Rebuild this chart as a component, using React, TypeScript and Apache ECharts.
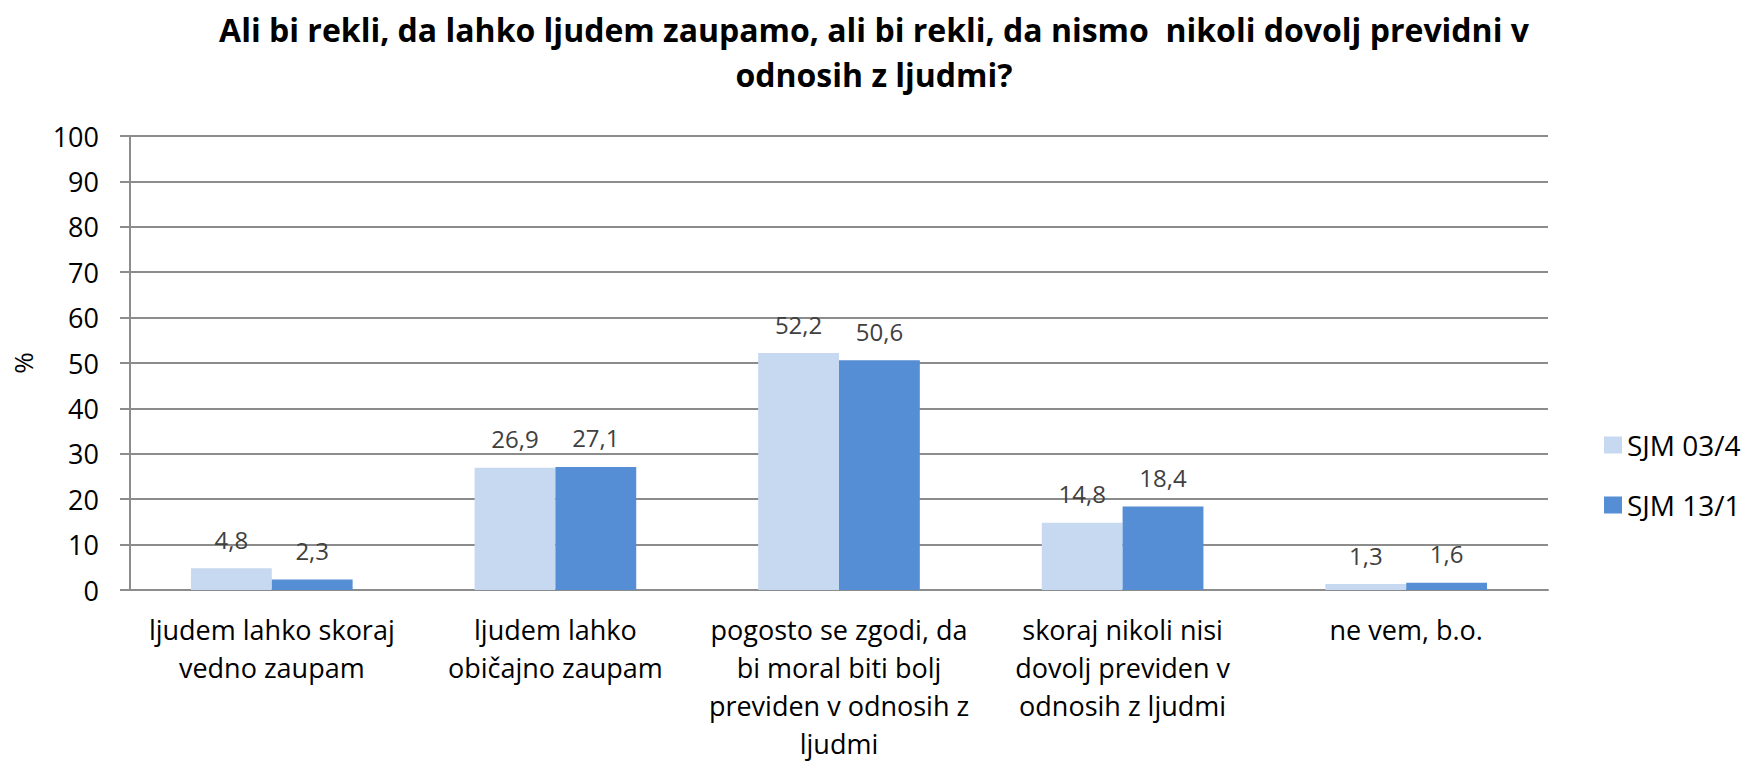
import React, { useEffect, useRef } from "react";
import * as echarts from "echarts";

const titleText =
  "Ali bi rekli, da lahko ljudem zaupamo, ali bi rekli, da nismo  nikoli dovolj previdni v\nodnosih z ljudmi?";

const categories = [
  "ljudem lahko skoraj\nvedno zaupam",
  "ljudem lahko\nobičajno zaupam",
  "pogosto se zgodi, da\nbi moral biti bolj\npreviden v odnosih z\nljudmi",
  "skoraj nikoli nisi\ndovolj previden v\nodnosih z ljudmi",
  "ne vem, b.o.",
];

const seriesNames = ["SJM 03/4", "SJM 13/1"];
const sjm034 = [4.8, 26.9, 52.2, 14.8, 1.3];
const sjm131 = [2.3, 27.1, 50.6, 18.4, 1.6];

const yTicks = { min: 0, max: 100, interval: 10 };
const colors = ["#C6D9F1", "#558ED5"];

const FONT = "'Open Sans', Lato, sans-serif";

export default function App() {
  const ref = useRef<HTMLDivElement>(null);
  useEffect(() => {
    document.body.style.margin = "0";
    const chart = echarts.init(ref.current!, null, { renderer: "svg" });
    const label = {
      show: true,
      position: "top",
      distance: 17,
      color: "#404040",
      fontFamily: FONT,
      fontSize: 24,
      formatter: (p: any) => String(p.value).replace(".", ","),
    };
    chart.setOption({
      animation: false,
      backgroundColor: "#ffffff",
      textStyle: { fontFamily: FONT },
      title: {
        text: titleText,
        left: "center",
        top: 2,
        textStyle: {
          fontFamily: FONT,
          fontSize: 32,
          fontWeight: "bold",
          color: "#000000",
          lineHeight: 45,
        },
      },
      legend: {
        orient: "vertical",
        left: 1599,
        top: 426,
        itemWidth: 18,
        itemHeight: 17,
        itemGap: 32,
        icon: "rect",
        textStyle: { fontFamily: FONT, fontSize: 28, color: "#000000" },
        data: seriesNames,
      },
      grid: {
        left: 130,
        right: 200,
        top: 136,
        bottom: 171,
        containLabel: false,
        outerBoundsMode: "none",
      },
      xAxis: {
        type: "category",
        data: categories,
        axisLine: { show: true, lineStyle: { color: "#8c8c8c", width: 2 } },
        axisTick: { show: false },
        axisLabel: {
          interval: 0,
          margin: 20,
          color: "#000000",
          fontFamily: FONT,
          fontSize: 27,
          lineHeight: 38,
        },
      },
      yAxis: {
        type: "value",
        min: yTicks.min,
        max: yTicks.max,
        interval: yTicks.interval,
        name: "%",
        nameLocation: "middle",
        nameGap: 94,
        nameRotate: 90,
        nameTextStyle: { fontFamily: FONT, fontSize: 26, color: "#000000" },
        axisLine: { show: true, lineStyle: { color: "#8c8c8c", width: 2 } },
        axisTick: { show: true, length: 10, lineStyle: { color: "#8c8c8c", width: 2 } },
        splitLine: { show: true, lineStyle: { color: "#8c8c8c", width: 2 } },
        axisLabel: {
          margin: 31,
          color: "#000000",
          fontFamily: FONT,
          fontSize: 27,
        },
      },
      series: [
        {
          name: seriesNames[0],
          type: "bar",
          data: sjm034,
          barGap: "0%",
          barCategoryGap: "43%",
          itemStyle: { color: colors[0] },
          label,
        },
        {
          name: seriesNames[1],
          type: "bar",
          data: sjm131,
          barGap: "0%",
          barCategoryGap: "43%",
          itemStyle: { color: colors[1] },
          label,
        },
      ],
    });
    return () => chart.dispose();
  }, []);
  return <div ref={ref} style={{ width: 1748, height: 761 }} />;
}
